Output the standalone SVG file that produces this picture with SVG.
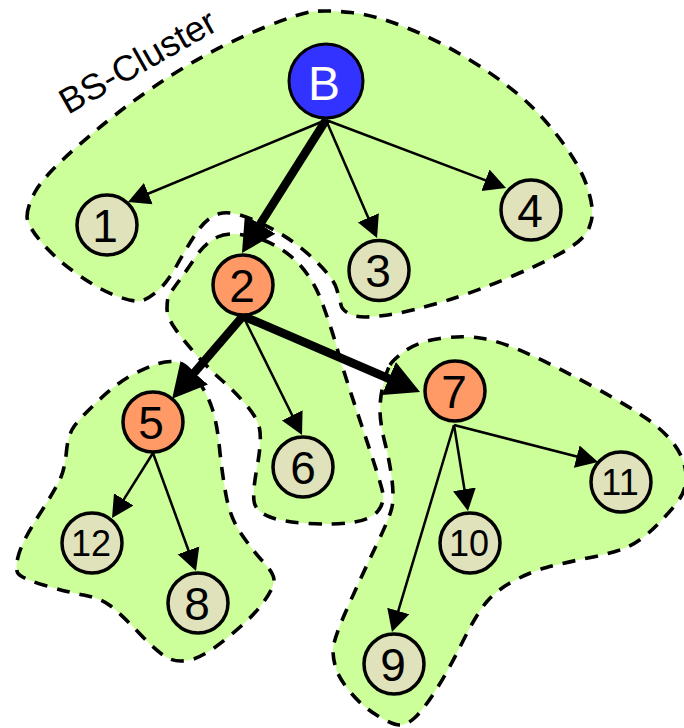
<svg xmlns="http://www.w3.org/2000/svg" width="684" height="728" viewBox="0 0 684 728">
<style>
.blob{fill:#ccff99;stroke:#000;stroke-width:3.6;stroke-dasharray:13 10}
.n circle{stroke:#000;stroke-width:3.5}
.leaf circle{fill:#dfe2bb}
.mid circle{fill:#ff9966}
text{font-family:"Liberation Sans",Arial,sans-serif;fill:#000;text-anchor:middle}
.n text{font-size:46px}
.s text{font-size:36px}
.thin{stroke:#000;stroke-width:2.5;fill:none;marker-end:url(#a)}
.thick{stroke:#000;stroke-width:8.5;fill:none;marker-end:url(#b)}
</style>
<defs>
<marker id="a" markerUnits="userSpaceOnUse" markerWidth="24" markerHeight="25" refX="1" refY="12.5" orient="auto" viewBox="0 0 24 25"><path d="M0,1 L22,12.500 L0,24 Z" fill="#000"/></marker>
<marker id="b" markerUnits="userSpaceOnUse" markerWidth="36" markerHeight="38" refX="1" refY="19" orient="auto" viewBox="0 0 36 38"><path d="M0,1 L34,19 L0,37 Z" fill="#000"/></marker>
</defs>
<g id="clusters">
<path id="cluster-b" class="blob" d="M27,217 Q27,207 35,192 Q43,177 75,148.5 Q107,120 140,96.5 Q173,73 203,56.5 Q233,40 266.5,26.5 Q300,13 313.5,11.5 Q327,10 351,12.5 Q375,15 408.5,28.5 Q442,42 475.5,63.5 Q509,85 529,104 Q549,123 566.5,148 Q584,173 589,193 Q595,213 590,225 Q587,237 570,247.5 Q555,258 515,275 Q475,292 442,302 Q409,312 384,315.5 Q357,319 349.5,314 Q342,310 341,305 Q340,300 336.5,288.5 Q333,277 311.5,257 Q290,237 261.5,223.5 Q233,210 220,213.5 Q207,217 197,232 Q187,247 177,265 Q167,283 157,291.5 Q147,300 140,301 Q133,302 116.5,296 Q100,290 78.5,275 Q57,260 42.5,243.5 Q28,227 27,217 Z"/>
<path id="cluster-2" class="blob" d="M217.5,237 Q230,231 253.5,237 Q277,243 295,260 Q313,277 323,305 Q333,333 338,351.5 Q343,370 361.5,425 Q380,480 382.5,491.5 Q385,503 377.5,511.5 Q370,520 351.5,522.5 Q333,525 308,523.5 Q283,522 270,517 Q257,512 254.5,503.5 Q252,495 257,467.5 Q262,440 259.5,428.5 Q257,417 245,403.5 Q233,390 221.5,380 Q210,370 196.5,355 Q183,340 175,328.5 Q167,317 167,308.5 Q167,300 168.5,296.5 Q170,293 178.5,281.5 Q187,270 196,256.5 Q205,243 217.5,237 Z"/>
<path id="cluster-5" class="blob" d="M158.5,363.5 Q170,360 178.5,362.5 Q187,365 197,379 Q207,393 212,408 Q217,423 219.5,448 Q222,473 226,495 Q230,517 240,532 Q250,547 261.5,560 Q274,573 274,580 Q274,587 265,600 Q257,613 232,634 Q207,655 193.5,659 Q180,663 170,659 Q160,655 140,634 Q120,613 110,605.5 Q100,598 83.5,595 Q67,592 43.5,585 Q20,578 17.5,572.5 Q15,567 19,553.5 Q23,540 40,513.5 Q57,487 61,477 Q65,467 66.5,451 Q68,435 74,426.5 Q80,418 98.5,400.5 Q117,383 132,375 Q147,367 158.5,363.5 Z"/>
<path id="cluster-7" class="blob" d="M390,365 Q393,360 405,351 Q417,342 440,338.5 Q463,335 483,338.5 Q503,342 533,356 Q563,370 596.5,388.5 Q630,407 646.5,418.5 Q663,430 673.5,443.5 Q684,457 686,473.5 Q688,490 674,506.5 Q660,523 648.5,533 Q637,543 625,548 Q613,553 588,558 Q563,563 546.5,567.5 Q530,572 513.5,581 Q497,590 487,601.5 Q477,613 462,643 Q447,673 435,691.5 Q423,710 415,717.5 Q407,725 400,725 Q393,725 378,716 Q363,707 351.5,693.5 Q340,680 336.5,670 Q333,660 333,650 Q333,640 348,606.5 Q363,573 376.5,545 Q390,517 392,507 Q394,497 392,480 Q390,463 385,443 Q380,423 380,410 Q380,397 383.5,383.5 Q387,370 390,365 Z"/>
<text id="cluster-label" transform="translate(68 115) rotate(-29.5)" font-size="36" style="text-anchor:start">BS-Cluster</text>
</g>
<g id="connectors">
<line class="thin" x1="326" y1="120" x2="147.4" y2="194"/>
<line class="thin" x1="326" y1="120" x2="368.7" y2="218.7"/>
<line class="thin" x1="326" y1="120" x2="486.4" y2="180.6"/>
<line class="thick" x1="326" y1="120" x2="259.6" y2="225.1"/>
<line class="thick" x1="243" y1="316" x2="193.6" y2="373.6"/>
<line class="thick" x1="243" y1="316" x2="389.7" y2="379"/>
<line class="thin" x1="243" y1="316" x2="292.7" y2="416.2"/>
<line class="thin" x1="153" y1="453" x2="123.2" y2="500.3"/>
<line class="thin" x1="153" y1="453" x2="188.8" y2="551.3"/>
<line class="thin" x1="454" y1="425" x2="398" y2="611.9"/>
<line class="thin" x1="454" y1="425" x2="464.6" y2="490.3"/>
<line class="thin" x1="454" y1="425" x2="577.7" y2="456.8"/>
</g>
<g id="node-b" class="n"><circle cx="326" cy="81" r="37" fill="#3333ff" style="stroke-width:3"/><text x="324" y="100" style="fill:#fff;font-size:48px">B</text></g>
<g id="node-1" class="n leaf"><circle cx="107" cy="225" r="30"/><text x="105" y="242">1</text></g>
<g id="node-2" class="n mid"><circle cx="243" cy="285" r="30"/><text x="242" y="302">2</text></g>
<g id="node-3" class="n leaf"><circle cx="379" cy="270.5" r="30"/><text x="378" y="287">3</text></g>
<g id="node-4" class="n leaf"><circle cx="531" cy="210" r="30"/><text x="530" y="227">4</text></g>
<g id="node-5" class="n mid"><circle cx="153" cy="422" r="30"/><text x="151" y="439">5</text></g>
<g id="node-6" class="n leaf"><circle cx="303" cy="467" r="30"/><text x="303" y="484">6</text></g>
<g id="node-7" class="n mid"><circle cx="455" cy="391" r="30"/><text x="454" y="408">7</text></g>
<g id="node-8" class="n leaf"><circle cx="198" cy="603" r="30"/><text x="197" y="620">8</text></g>
<g id="node-9" class="n leaf"><circle cx="394" cy="664" r="30"/><text x="393" y="681">9</text></g>
<g id="node-10" class="n leaf s"><circle cx="470" cy="543" r="30"/><text x="469" y="556">10</text></g>
<g id="node-11" class="n leaf s"><circle cx="621" cy="482" r="30"/><text x="620" y="495">11</text></g>
<g id="node-12" class="n leaf s"><circle cx="92" cy="543" r="30"/><text x="91" y="556">12</text></g>
</svg>
